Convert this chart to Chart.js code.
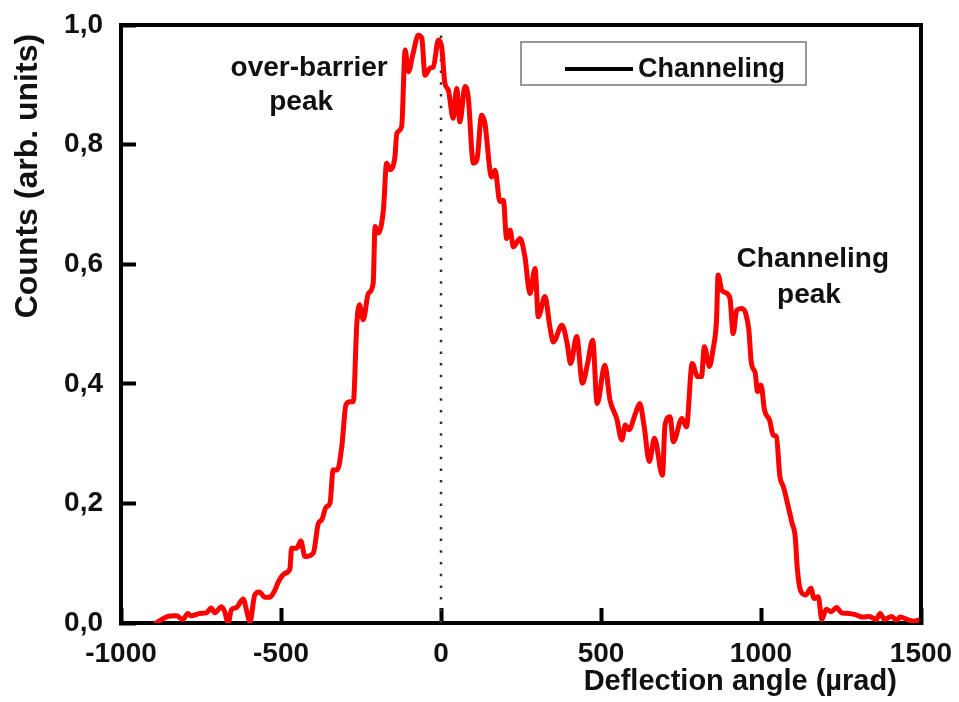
<!DOCTYPE html>
<html>
<head>
<meta charset="utf-8">
<script src="https://cdn.jsdelivr.net/npm/chart.js@4.4.1/dist/chart.umd.min.js"></script>
<style>
  html, body { margin: 0; padding: 0; background: #fff; }
  #wrap { width: 959px; height: 702px; }
</style>
</head>
<body>
<div id="wrap"><canvas id="myChart"></canvas></div>
<script>
// deflection angle (µrad) and normalised counts
const angle = [
  -890, -859, -827, -807, -791, -780, -754, -733, -718, -707, -686, -676, -665, -655, -639, -618,
  -608, -597, -582, -568, -550, -535, -519, -508, -488, -472, -467, -451, -438, -425, -399, -383,
  -373, -359, -347, -337, -324, -310, -297, -284, -274, -263, -255, -243, -227, -212, -206, -196,
  -180, -170, -159, -144, -138, -123, -112, -102, -87, -71, -60, -50, -34, -24, -8, 2,
  12, 23, 38, 49, 59, 75, 85, 101, 112, 127, 137, 158, 169, 184, 195, 205,
  216, 226, 247, 262, 278, 294, 304, 325, 340, 351, 378, 394, 405, 424, 442, 458,
  474, 488, 512, 528, 549, 565, 576, 587, 608, 621, 635, 651, 667, 692, 700, 716,
  726, 753, 767, 785, 802, 814, 823, 839, 850, 861, 866, 877, 887, 903, 913, 924,
  940, 952, 962, 970, 982, 989, 1000, 1011, 1027, 1038, 1048, 1059, 1070, 1078, 1097, 1107,
  1113, 1123, 1140, 1156, 1166, 1179, 1190, 1204, 1220, 1236, 1252, 1274, 1295, 1317, 1338, 1360,
  1372, 1386, 1408, 1424, 1435, 1456, 1478, 1494
];
const counts = [
  0.000, 0.010, 0.012, 0.006, 0.016, 0.012, 0.016, 0.017, 0.025, 0.017, 0.027, 0.019, 0.000, 0.022, 0.026, 0.040,
  0.022, 0.002, 0.047, 0.052, 0.043, 0.043, 0.055, 0.069, 0.083, 0.091, 0.125, 0.125, 0.137, 0.111, 0.117, 0.167,
  0.172, 0.194, 0.200, 0.256, 0.256, 0.295, 0.365, 0.370, 0.370, 0.501, 0.532, 0.507, 0.551, 0.568, 0.663, 0.652,
  0.691, 0.769, 0.758, 0.780, 0.819, 0.830, 0.958, 0.922, 0.953, 0.983, 0.978, 0.916, 0.928, 0.930, 0.975, 0.964,
  0.903, 0.891, 0.844, 0.894, 0.838, 0.897, 0.880, 0.769, 0.774, 0.849, 0.836, 0.746, 0.757, 0.705, 0.707, 0.643,
  0.657, 0.629, 0.643, 0.613, 0.551, 0.593, 0.512, 0.546, 0.496, 0.470, 0.498, 0.468, 0.434, 0.479, 0.401, 0.434,
  0.473, 0.367, 0.431, 0.373, 0.342, 0.306, 0.331, 0.323, 0.351, 0.367, 0.328, 0.270, 0.309, 0.247, 0.331, 0.345,
  0.303, 0.342, 0.328, 0.434, 0.412, 0.412, 0.462, 0.429, 0.457, 0.507, 0.582, 0.557, 0.553, 0.543, 0.484, 0.523,
  0.526, 0.518, 0.490, 0.434, 0.418, 0.387, 0.398, 0.356, 0.339, 0.314, 0.312, 0.245, 0.228, 0.211, 0.167, 0.144,
  0.094, 0.055, 0.047, 0.058, 0.041, 0.044, 0.006, 0.023, 0.019, 0.026, 0.017, 0.016, 0.014, 0.010, 0.011, 0.006,
  0.016, 0.006, 0.011, 0.005, 0.010, 0.006, 0.003, 0.005
];
const zeroLineX = [0, 0];
const zeroLineY = [0, 0.985];
const xTicks = [-1000, -500, 0, 500, 1000, 1500];
const yTicks = [0, 0.2, 0.4, 0.6, 0.8, 1.0];
const legendLabel = 'Channeling';

const FONT = "'Liberation Sans', Arial, sans-serif";
Chart.defaults.font.family = FONT;
Chart.defaults.color = '#000';

// frame, legend box and the two peak labels
const decorations = {
    id: 'decorations',
    afterDatasetsDraw(chart) {
        const {ctx, chartArea: a, scales: {x, y}} = chart;
        ctx.save();
        ctx.strokeStyle = '#000';
        ctx.lineWidth = 4;
        ctx.lineJoin = 'miter';
        ctx.beginPath();
        ctx.moveTo(a.left - 2, a.top);
        ctx.lineTo(a.right, a.top);
        ctx.lineTo(a.right, a.bottom + 2);
        ctx.stroke();

        // legend
        const bx = a.left + 400, by = a.top + 17;
        ctx.strokeStyle = '#777';
        ctx.lineWidth = 1.5;
        ctx.strokeRect(bx, by, 285, 43);
        ctx.strokeStyle = '#000';
        ctx.lineWidth = 4;
        ctx.beginPath();
        ctx.moveTo(bx + 44, by + 27);
        ctx.lineTo(bx + 112, by + 27);
        ctx.stroke();
        ctx.fillStyle = '#111';
        ctx.font = 'bold 27px ' + FONT;
        ctx.textAlign = 'left';
        ctx.textBaseline = 'middle';
        ctx.fillText(legendLabel, bx + 117, by + 28);

        // annotations
        const notes = [
            ['over-barrier', -412, 0.927],
            ['peak', -437, 0.870],
            ['Channeling', 1162, 0.609],
            ['peak', 1150, 0.548]
        ];
        ctx.font = 'bold 28px ' + FONT;
        ctx.textAlign = 'center';
        notes.forEach(n => {
            ctx.fillText(n[0], x.getPixelForValue(n[1]), y.getPixelForValue(n[2]));
        });
        ctx.restore();
    }
};

function createChart() {
    const ctx = document.getElementById('myChart').getContext('2d');
    const config = {
        type: 'line',
        data: {
            datasets: [
                {
                    label: legendLabel,
                    data: angle.map((v, i) => ({x: v, y: counts[i]})),
                    borderColor: '#ff0000',
                    borderWidth: 5,
                    borderJoinStyle: 'round',
                    borderCapStyle: 'round',
                    cubicInterpolationMode: 'monotone',
                    pointRadius: 0,
                    fill: false
                },
                {
                    label: 'zero',
                    data: zeroLineX.map((v, i) => ({x: v, y: zeroLineY[i]})),
                    borderColor: '#333',
                    borderWidth: 2.5,
                    borderDash: [2.5, 9.2],
                    pointRadius: 0,
                    fill: false
                }
            ]
        },
        options: {
            responsive: true,
            maintainAspectRatio: false,
            animation: false,
            events: [],
            layout: {
                padding: {top: 25, right: 38, left: 0, bottom: 0}
            },
            scales: {
                x: {
                    type: 'linear',
                    min: -1000,
                    max: 1500,
                    afterBuildTicks: s => { s.ticks = xTicks.map(v => ({value: v})); },
                    afterFit: s => {
                        s.height = 79;
                        s.paddingLeft = 0;
                        s.paddingRight = 0;
                    },
                    grid: {
                        drawOnChartArea: false,
                        tickLength: -15,
                        tickWidth: 4,
                        tickColor: '#000'
                    },
                    border: {color: '#000', width: 4},
                    ticks: {
                        padding: 29,
                        maxRotation: 0,
                        font: {size: 28, weight: 'bold'},
                        color: '#111',
                        callback: v => String(v)
                    },
                    title: {
                        display: true,
                        text: 'Deflection angle (µrad)   ',
                        align: 'end',
                        font: {size: 29, weight: 'bold'},
                        color: '#111',
                        padding: {top: 0, bottom: 3}
                    }
                },
                y: {
                    min: 0,
                    max: 1,
                    afterBuildTicks: s => { s.ticks = yTicks.map(v => ({value: v})); },
                    afterFit: s => {
                        s.width = 121;
                        s.paddingTop = 0;
                        s.paddingBottom = 0;
                    },
                    grid: {
                        drawOnChartArea: false,
                        tickLength: -15,
                        tickWidth: 4,
                        tickColor: '#000'
                    },
                    border: {color: '#000', width: 4},
                    ticks: {
                        padding: 33,
                        font: {size: 28, weight: 'bold'},
                        color: '#111',
                        callback: v => v.toFixed(1).replace('.', ',')
                    },
                    title: {
                        display: true,
                        text: 'Counts (arb. units) ',
                        align: 'end',
                        font: {size: 32, weight: 'bold'},
                        color: '#111',
                        padding: {top: 9, bottom: 0}
                    }
                }
            },
            plugins: {
                legend: {display: false},
                tooltip: {enabled: false}
            }
        },
        plugins: [decorations]
    };
    new Chart(ctx, config);
}

createChart();
</script>
</body>
</html>
